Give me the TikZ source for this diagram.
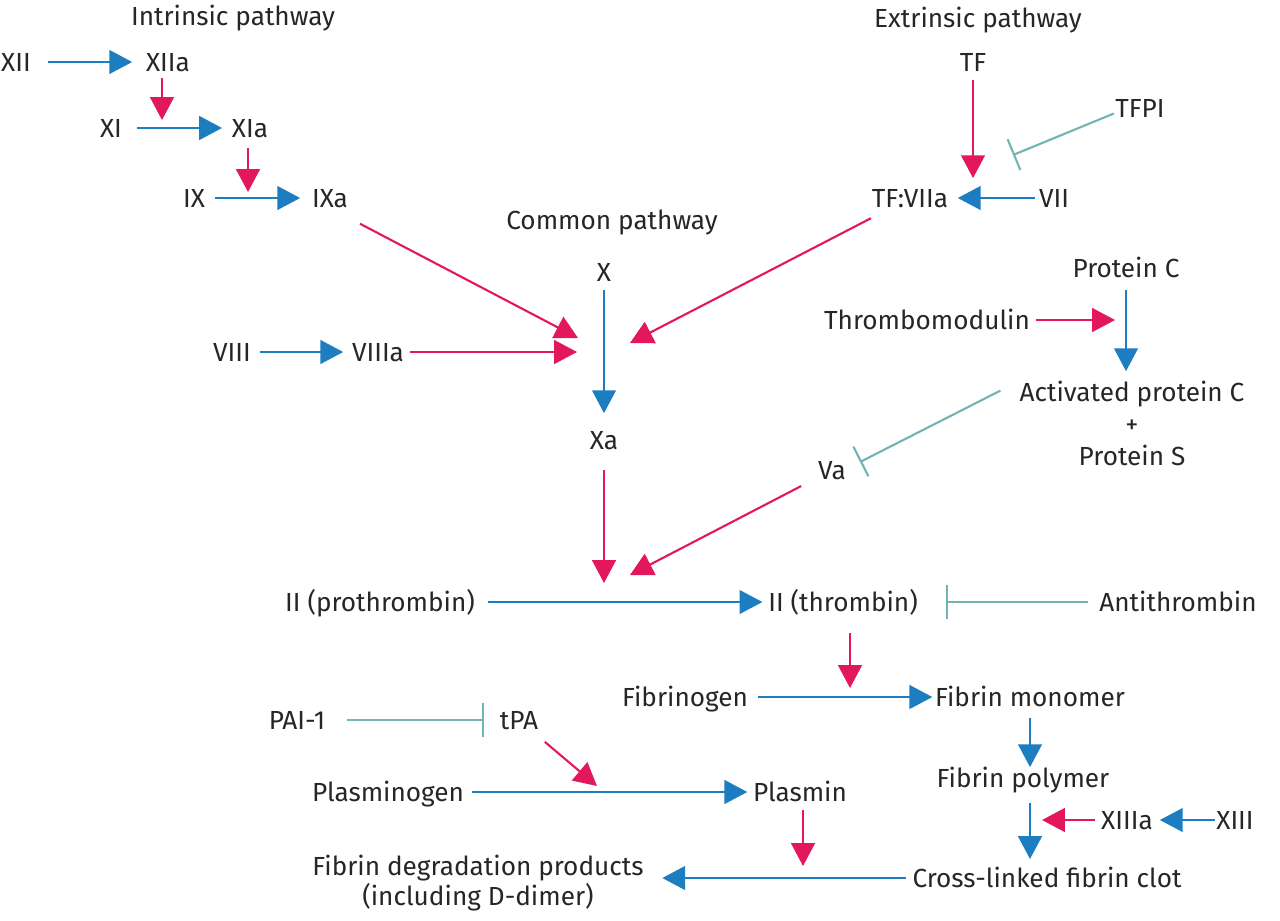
\documentclass[tikz,border=0pt]{standalone}
\usepackage{fontspec}
\setmainfont{Fira Sans}
\usetikzlibrary{arrows.meta,calc}
\definecolor{cblue}{HTML}{1C7DC0}
\definecolor{cred}{HTML}{E2185B}
\definecolor{cteal}{HTML}{72B4B2}
\tikzset{
  lbl/.style={inner sep=0pt, text height=10.5pt, text depth=0pt, font=\fontsize{14.9}{18}\selectfont, text=black!85},
  mlbl/.style={inner sep=0pt, align=center, text=black!85},
  barr/.style={draw=cblue, line width=1.2pt, -{Triangle[length=13pt,width=13.5pt]}},
  rarr/.style={draw=cred, line width=1.2pt, -{Triangle[length=13pt,width=13.5pt]}},
  tinh/.style={draw=cteal, line width=1.2pt, -{Bar[width=19pt]}},
}
\begin{document}
\begin{tikzpicture}[x=0.02cm,y=-0.02cm]
\useasboundingbox (0,0) rectangle (1280,920);
% titles
\node[lbl] (intr) at (233,16) {Intrinsic pathway};
\node[lbl] (extr) at (978,18) {Extrinsic pathway};
\node[lbl] (common) at (612,220) {Common pathway};
% intrinsic
\node[lbl] (XII) at (16,62) {XII};
\node[lbl] (XIIa) at (168,62) {XIIa};
\node[lbl] (XI) at (111,128) {XI};
\node[lbl] (XIa) at (250,128) {XIa};
\node[lbl] (IX) at (194,198) {IX};
\node[lbl] (IXa) at (330,198) {IXa};
\node[lbl] (VIII) at (232,352) {VIII};
\node[lbl] (VIIIa) at (378,352) {VIIIa};
% extrinsic
\node[lbl] (TF) at (973,62) {TF};
\node[lbl] (TFPI) at (1140,108) {TFPI};
\node[lbl] (TFVIIa) at (910,198) {TF:VIIa};
\node[lbl] (VII) at (1054,198) {VII};
% common
\node[lbl] (X) at (604,272) {X};
\node[lbl] (Xa) at (604,440) {Xa};
\node[lbl] (ProtC) at (1126,268) {Protein C};
\node[lbl] (Thrombo) at (927,320) {Thrombomodulin};
\node[mlbl, anchor=north, font=\fontsize{14.9}{18}\selectfont] (APC) at (1132,381) {Activated protein C\\+\\Protein S};
\node[lbl] (Va) at (832,470) {Va};
\node[lbl] (IIp) at (380,602) {II (prothrombin)};
\node[lbl] (IIt) at (843,602) {II (thrombin)};
\node[lbl] (AT) at (1178,602) {Antithrombin};
\node[lbl] (Fibrinogen) at (685,697) {Fibrinogen};
\node[lbl] (FibMono) at (1030,697) {Fibrin monomer};
\node[lbl] (FibPoly) at (1023,778) {Fibrin polymer};
\node[lbl] (PAI) at (297,720) {PAI-1};
\node[lbl] (tPA) at (519,720) {tPA};
\node[lbl] (Plasminogen) at (388,792) {Plasminogen};
\node[lbl] (Plasmin) at (800,792) {Plasmin};
\node[lbl] (XIIIa) at (1127,820) {XIIIa};
\node[lbl] (XIII) at (1235,820) {XIII};
\node[lbl] (Clot) at (1047,878) {Cross-linked fibrin clot};
\node[mlbl, anchor=north, font=\fontsize{14.9}{17}\selectfont] (FDP) at (478,855) {Fibrin degradation products\\(including D-dimer)};
% junction points on arrows
\coordinate (j1) at (162,120);
\coordinate (j2) at (248,192);
\coordinate (jX1) at (578,338);
\coordinate (jX2) at (577,352);
\coordinate (jX3) at (630,343);
\coordinate (jII1) at (604,583);
\coordinate (jII2) at (630,575);
\coordinate (jF) at (850,688);
\coordinate (jP) at (1115,320);
\coordinate (jPl) at (597,786);
\coordinate (jC) at (803,866);
\coordinate (jXIII) at (1042,820);
\coordinate (jT) at (1013,155);
\coordinate (jV) at (860,462);
% blue arrows
\draw[barr, shorten <=18.1pt, shorten >=20.4pt] (XII.center) -- (XIIa.center);
\draw[barr, shorten <=14.7pt, shorten >=15.9pt] (XI.center) -- (XIa.center);
\draw[barr, shorten <=11.9pt, shorten >=17pt] (IX.center) -- (IXa.center);
\draw[barr, shorten <=10.8pt, shorten >=27.2pt] (VII.center) -- (TFVIIa.center);
\draw[barr, shorten <=10.2pt, shorten >=15.3pt] (X.center) -- (Xa.center);
\draw[barr, shorten <=15.9pt, shorten >=19.8pt] (VIII.center) -- (VIIIa.center);
\draw[barr, shorten <=12.5pt, shorten >=5.6pt] (ProtC.center) -- (APC.north -| ProtC.center);
\draw[barr, shorten <=61.2pt, shorten >=45.9pt] (IIp.center) -- (IIt.center);
\draw[barr, shorten <=41.4pt, shorten >=55.6pt] (Fibrinogen.center) -- (FibMono.center);
\draw[barr, shorten <=11.9pt, shorten >=6.2pt] (FibMono.center) -- (FibMono.center |- FibPoly.center);
\draw[barr, shorten <=14.2pt, shorten >=10.8pt] (FibPoly.center -| FibMono.center) -- (Clot.center -| FibMono.center);
\draw[barr, shorten <=11.3pt, shorten >=18.7pt] (XIII.center) -- (XIIIa.center);
\draw[barr, shorten <=47.6pt, shorten >=30pt] (Plasminogen.center) -- (Plasmin.center);
\draw[barr, shorten <=80.5pt, shorten >=104.9pt] (Clot.center) -- (FDP.center |- Clot.center);
% red arrows
\draw[rarr, shorten <=9.1pt] (XIIa.center -| j1) -- (j1);
\draw[rarr, shorten <=11.3pt] (XIa.center -| j2) -- (j2);
\draw[rarr, shorten <=10.2pt, shorten >=11.3pt] (TF.center) -- (TF.center |- TFVIIa.center);
\draw[rarr, shorten <=19.3pt] ([yshift=-5.7pt]IXa.center) -- (jX1);
\draw[rarr, shorten <=18.1pt] (VIIIa.center) -- (jX2);
\draw[rarr, shorten <=25pt] (TFVIIa.center) -- (jX3);
\draw[rarr, shorten <=17pt] (Xa.center) -- (jII1);
\draw[rarr, shorten <=19.8pt] (Va.center) -- (jII2);
\draw[rarr, shorten <=17.6pt] (IIt.center -| jF) -- (jF);
\draw[rarr, shorten <=62.3pt] (Thrombo.center) -- (jP);
\draw[rarr, shorten <=19.3pt] (tPA.center) -- (jPl);
\draw[rarr, shorten <=10.2pt] (Plasmin.center -| jC) -- (jC);
\draw[rarr, shorten <=18.1pt] (XIIIa.center) -- (jXIII);
% inhibitors
\draw[tinh, shorten <=16pt] ([yshift=3pt]TFPI.center) -- (jT);
\draw[tinh, shorten <=12pt] (APC.north west) -- (jV);
\draw[tinh, shorten <=51pt, shorten >=58.4pt] (AT.center) -- (IIt.center);
\draw[tinh, shorten <=28.4pt, shorten >=19.8pt] (PAI.center) -- (tPA.center);
\end{tikzpicture}
\end{document}
